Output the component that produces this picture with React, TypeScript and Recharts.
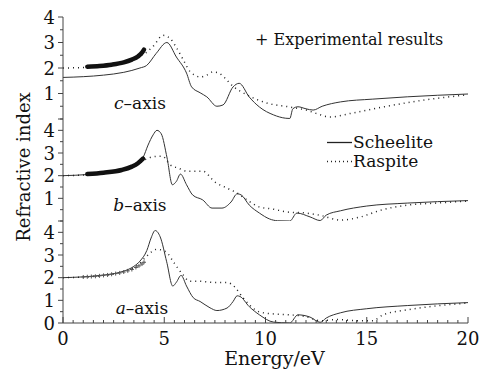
import React from 'react';
import { LineChart, Line, XAxis, YAxis, ReferenceDot, Legend } from 'recharts';

const W = 481;
const H = 371;
const FONT = '"DejaVu Serif", "Liberation Serif", serif';
const AX = '#444';

// [energy eV, refractive index]
const cScheelite = [
  [0, 1.63], [1, 1.66], [2, 1.72], [3, 1.83], [3.8, 2.0], [4.13, 2.1], [4.6, 2.57], [5.13, 3.0],
  [5.6, 2.43], [6.1, 1.8], [6.35, 1.26], [6.77, 1.03], [7.1, 0.87], [7.6, 0.5], [7.9, 0.55],
  [8.4, 1.26], [8.7, 1.4], [9.2, 0.86], [9.7, 0.47], [10.4, 0.16], [11.0, 0.03], [11.2, 0.02],
  [11.35, 0.4], [11.6, 0.48], [12.0, 0.4], [12.35, 0.35], [12.8, 0.5], [13.7, 0.67], [15.3, 0.78],
  [17, 0.87], [20, 0.98],
];
const cRaspite = [
  [0, 2.0], [1, 2.02], [2, 2.1], [3, 2.25], [3.7, 2.45], [4.1, 2.6], [4.45, 2.85], [4.95, 3.28],
  [5.3, 3.15], [5.6, 2.8], [5.9, 2.38], [6.3, 1.84], [6.8, 1.65], [7.1, 1.72], [7.4, 1.85],
  [7.7, 1.8], [8.0, 1.6], [8.3, 1.35], [9.1, 0.94], [10.1, 0.62], [11.2, 0.47], [12.0, 0.35],
  [12.5, 0.22], [13.2, 0.08], [14.2, 0.22], [15.8, 0.47], [17.8, 0.74], [20, 0.95],
];
const cExperiment = [
  [1.2, 2.05], [1.8, 2.08], [2.4, 2.13], [3.0, 2.22], [3.4, 2.33], [3.7, 2.45], [3.9, 2.6], [4.0, 2.72],
];

const bScheelite = [
  [0, 2.0], [1.2, 2.05], [2.2, 2.15], [2.9, 2.25], [3.4, 2.42], [3.7, 2.6], [3.95, 2.8], [4.2, 3.35],
  [4.45, 3.8], [4.64, 4.0], [4.85, 3.85], [5.14, 2.78], [5.4, 1.6], [5.6, 1.75], [5.8, 2.07],
  [6.1, 1.6], [6.4, 1.15], [6.9, 0.93], [7.36, 0.57], [7.85, 0.57], [8.3, 0.84], [8.6, 1.2],
  [8.8, 1.15], [9.2, 0.7], [9.7, 0.35], [10.2, 0.09], [10.6, 0.01], [11.2, 0.0], [11.55, 0.35],
  [12.2, 0.18], [12.7, 0.02], [13.0, 0.26], [13.7, 0.45], [15, 0.66], [17, 0.79], [20, 0.9],
];
const bRaspite = [
  [0, 2.0], [1, 2.03], [2, 2.1], [3, 2.25], [3.7, 2.5], [4.2, 2.77], [4.6, 2.85], [4.9, 2.86],
  [5.3, 2.47], [5.7, 2.33], [6.1, 2.2], [6.9, 2.2], [7.5, 1.72], [8.1, 1.45], [8.6, 1.23],
  [9.1, 0.92], [9.7, 0.62], [10.4, 0.52], [11.05, 0.4], [12, 0.35], [12.7, 0.25], [13.7, 0.04],
  [14.7, 0.18], [15.7, 0.48], [17, 0.7], [18.6, 0.8], [20, 0.88],
];
const bExperiment = [
  [1.2, 2.07], [2.0, 2.13], [2.9, 2.25], [3.4, 2.4], [3.7, 2.55], [3.95, 2.75],
];

const aScheelite = [
  [0, 2.0], [1.83, 2.1], [2.97, 2.28], [3.5, 2.5], [3.8, 2.73], [4.14, 3.2], [4.35, 3.75],
  [4.55, 4.08], [4.8, 3.8], [5.12, 2.7], [5.42, 1.63], [5.6, 1.8], [5.83, 2.1], [6.1, 1.63],
  [6.43, 1.12], [6.77, 0.95], [7.26, 0.67], [7.6, 0.55], [8.1, 0.66], [8.4, 0.95], [8.6, 1.2],
  [8.74, 1.17], [9.2, 0.72], [9.7, 0.36], [10.4, 0.04], [11.2, 0.0], [11.6, 0.36], [12.2, 0.26],
  [12.7, 0.03], [13.0, 0.22], [13.7, 0.45], [15, 0.63], [17, 0.77], [20, 0.9],
];
const aRaspite = [
  [0, 2.0], [1, 2.03], [2, 2.1], [3, 2.28], [3.7, 2.55], [4.14, 2.95], [4.63, 3.25], [5.1, 3.13],
  [5.45, 2.7], [5.9, 2.15], [6.27, 1.84], [6.77, 1.84], [7.4, 1.79], [8.1, 1.79], [8.5, 1.57],
  [8.9, 1.1], [9.7, 0.49], [10.4, 0.4], [11.2, 0.36], [12, 0.28], [12.7, 0.1], [13.5, 0.15],
  [14.7, 0.1], [15.3, 0.1], [15.8, 0.36], [17, 0.58], [18.6, 0.77], [20, 0.88],
];
const aExperiment = [
  [1.0, 2.03], [1.2, 2.04], [1.4, 2.05], [1.6, 2.06], [1.8, 2.08], [2.0, 2.1], [2.2, 2.12],
  [2.4, 2.15], [2.6, 2.18], [2.8, 2.21], [3.0, 2.25], [3.2, 2.3], [3.4, 2.36], [3.6, 2.45],
  [3.75, 2.52], [3.9, 2.6], [4.0, 2.68],
];

const xMajor = [0, 5, 10, 15, 20];
const xTicks = Array.from({ length: 41 }, (_, i) => i * 0.5);
const yTicksTop = [0, 0.5, 1, 1.5, 2, 2.5, 3, 3.5, 4];
const yTicksLow = [0, 0.5, 1, 1.5, 2, 2.5, 3, 3.5, 4, 4.5];
const yLabelsTop = [1, 2, 3, 4];
const yLabelsMid = [1, 2, 3, 4];
const yLabelsBottom = [0, 1, 2, 3, 4];

const pts = (arr: number[][]) => arr.map(([e, n]) => ({ e, n }));

const textStyle = { fontFamily: FONT };

const XTick = (props: any) => {
  const { x, y, payload, dir, showLabel } = props;
  const major = xMajor.includes(payload.value);
  const len = major ? 6 : 3;
  return (
    <g>
      <line x1={x} x2={x} y1={y} y2={y + dir * len} stroke={AX} strokeWidth={1} />
      {showLabel && major && (
        <text x={x} y={y + 22} textAnchor="middle" fontSize={18} style={textStyle} fill="#111">
          {payload.value}
        </text>
      )}
    </g>
  );
};

const YTick = (props: any) => {
  const { x, y, payload, labels } = props;
  const major = Number.isInteger(payload.value);
  return (
    <g>
      <line x1={x} x2={x - (major ? 5 : 3)} y1={y} y2={y} stroke={AX} strokeWidth={1} />
      {labels.includes(payload.value) && (
        <text x={x - 8} y={y + 6.5} textAnchor="end" fontSize={18} style={textStyle} fill="#111">
          {payload.value}
        </text>
      )}
    </g>
  );
};

const Tag = (props: any) => {
  const { viewBox, letter } = props;
  return (
    <text x={viewBox.x + viewBox.width / 2} y={viewBox.y + viewBox.height / 2 + 6}
      textAnchor="middle" fontSize={17} style={textStyle} fill="#111">
      <tspan fontStyle="italic">{letter}</tspan>–axis
    </text>
  );
};

const YTitle = (props: any) => {
  const { viewBox } = props;
  const x = viewBox.x - 3;
  const y = viewBox.y + viewBox.height / 2 - 3;
  return (
    <text x={x} y={y} transform={`rotate(-90 ${x} ${y})`} textAnchor="middle"
      fontSize={18} style={textStyle} fill="#111">
      Refractive index
    </text>
  );
};

const XTitle = (props: any) => {
  const { viewBox } = props;
  return (
    <text x={viewBox.x + viewBox.width / 2 + 9} y={viewBox.y + 42} textAnchor="middle"
      fontSize={19} style={textStyle} fill="#111">
      Energy/eV
    </text>
  );
};

const ExpLegend = () => (
  <div style={{ fontFamily: FONT, fontSize: 16, lineHeight: '20px', color: '#111', whiteSpace: 'nowrap' }}>
    + Experimental results
  </div>
);

const SeriesLegend = () => (
  <div style={{ fontFamily: FONT, fontSize: 17, lineHeight: '19px', color: '#111', whiteSpace: 'nowrap' }}>
    <div style={{ display: 'flex', alignItems: 'center' }}>
      <svg width={26} height={19}><line x1={0} x2={25} y1={9.5} y2={9.5} stroke="#222" strokeWidth={1.3} /></svg>
      <span>Scheelite</span>
    </div>
    <div style={{ display: 'flex', alignItems: 'center' }}>
      <svg width={26} height={19}><line x1={0} x2={25} y1={9.5} y2={9.5} stroke="#222" strokeWidth={1.5} strokeDasharray="1 3" /></svg>
      <span>Raspite</span>
    </div>
  </div>
);

type PanelProps = {
  top: number;
  plotHeight: number;
  domain: number[];
  yTicks: number[];
  yLabels: number[];
  scheelite: number[][];
  raspite: number[][];
  experiment: number[][];
  thickExp: boolean;
  letter: string;
  tagAt: number[];
  showX?: boolean;
  yTitle?: boolean;
  legend?: React.ReactNode;
};

function Panel(p: PanelProps) {
  const xHeight = p.showX ? 48 : 0;
  const bottom = H - p.top - p.plotHeight - xHeight;
  return (
    <div style={{ position: 'absolute', left: 0, top: 0 }}>
      <LineChart width={W} height={H} margin={{ top: p.top, right: 13, bottom, left: 33 }}>
        <XAxis dataKey="e" type="number" domain={[0, 20]} ticks={xTicks} interval={0}
          tickSize={0} tickMargin={0} tickLine={false} height={xHeight} allowDataOverflow
          axisLine={{ stroke: AX }} tick={<XTick dir={-1} showLabel={!!p.showX} />}
          label={p.showX ? <XTitle /> : undefined} />
        <XAxis xAxisId="t" orientation="top" type="number" domain={[0, 20]} ticks={xTicks}
          interval={0} tickSize={0} tickMargin={0} tickLine={false} height={0}
          axisLine={{ stroke: AX }} tick={<XTick dir={1} showLabel={false} />} />
        <YAxis type="number" domain={p.domain} ticks={p.yTicks} interval={0} width={30}
          tickSize={0} tickMargin={0} tickLine={false} allowDataOverflow axisLine={{ stroke: AX }}
          tick={<YTick labels={p.yLabels} />} label={p.yTitle ? <YTitle /> : undefined} />
        <YAxis yAxisId="r" orientation="right" width={0} tick={false} tickLine={false}
          axisLine={{ stroke: AX }} />
        <Line data={pts(p.scheelite)} dataKey="n" type="monotone" stroke="#333"
          strokeWidth={1} dot={false} isAnimationActive={false} />
        <Line data={pts(p.raspite)} dataKey="n" type="monotone" stroke="#222"
          strokeWidth={1.5} strokeDasharray="1 4" dot={false} isAnimationActive={false} />
        {p.thickExp ? (
          <Line data={pts(p.experiment)} dataKey="n" type="monotone" stroke="#111"
            strokeWidth={4.5} strokeLinecap="round" dot={false} isAnimationActive={false} />
        ) : (
          <Line data={pts(p.experiment)} dataKey="n" type="monotone" stroke="none"
            isAnimationActive={false}
            dot={(d: any) => (
              <path key={d.index} d={`M${d.cx - 2},${d.cy}h4M${d.cx},${d.cy - 2}v4`}
                stroke="#555" strokeWidth={1} />
            )} />
        )}
        <ReferenceDot x={p.tagAt[0]} y={p.tagAt[1]} r={0} fill="none" stroke="none"
          label={<Tag letter={p.letter} />} />
        {p.legend}
      </LineChart>
    </div>
  );
}

export default function App() {
  return (
    <div style={{ position: 'absolute', left: 0, top: 0, width: W, height: H, background: '#fff', fontFamily: FONT }}>
      <Panel top={17} plotHeight={102} domain={[0, 4]} yTicks={yTicksTop} yLabels={yLabelsTop}
        scheelite={cScheelite} raspite={cRaspite} experiment={cExperiment} thickExp
        letter="c" tagAt={[3.8, 0.62]}
        legend={<Legend verticalAlign="middle" align="center" layout="horizontal"
          wrapperStyle={{ position: 'absolute', left: 255, top: 30, width: 'auto', height: 'auto' }}
          content={<ExpLegend />} />} />
      <Panel top={119} plotHeight={102} domain={[0, 4.5]} yTicks={yTicksLow} yLabels={yLabelsMid}
        scheelite={bScheelite} raspite={bRaspite} experiment={bExperiment} thickExp
        letter="b" tagAt={[3.8, 0.7]} yTitle
        legend={<Legend verticalAlign="middle" align="center" layout="horizontal"
          wrapperStyle={{ position: 'absolute', left: 327, top: 133, width: 'auto', height: 'auto' }}
          content={<SeriesLegend />} />} />
      <Panel top={221} plotHeight={102} domain={[0, 4.5]} yTicks={yTicksLow} yLabels={yLabelsBottom}
        scheelite={aScheelite} raspite={aRaspite} experiment={aExperiment} thickExp={false}
        letter="a" tagAt={[3.9, 0.67]} showX />
    </div>
  );
}
